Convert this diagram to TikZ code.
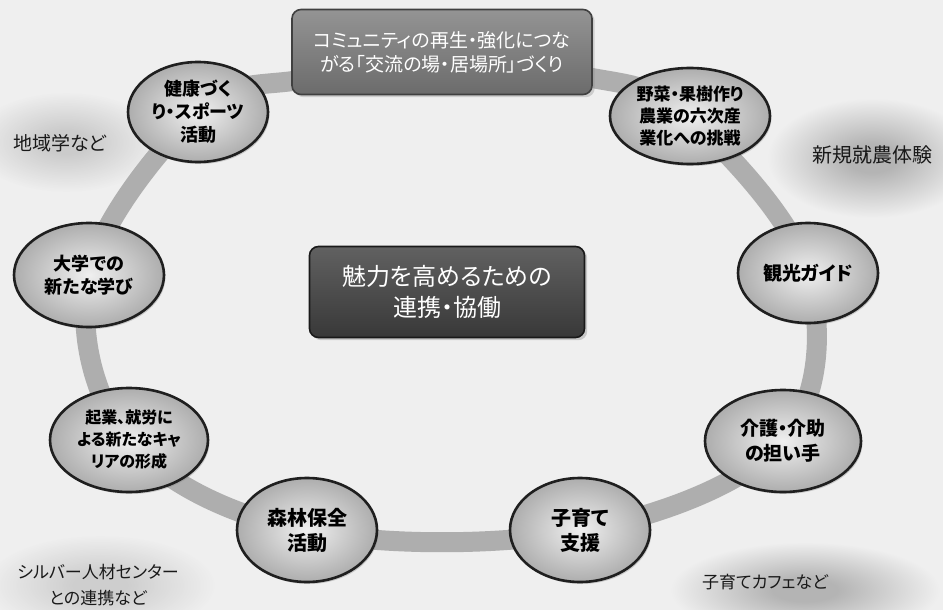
\documentclass[tikz,border=0pt]{standalone}
\usepackage{fontspec}
\setmainfont{Noto Sans CJK JP}[RawFeature={+palt}]
\usetikzlibrary{shapes.geometric,shadows}
\definecolor{bgc}{HTML}{EFEFEF}
\definecolor{glowc}{HTML}{B4B4B4}
\definecolor{ringc}{HTML}{AEAEAE}
\pgfdeclareradialshading{glow}{\pgfpoint{0bp}{0bp}}{color(0bp)=(glowc); color(6bp)=(glowc); color(25bp)=(bgc); color(50bp)=(bgc)}
\tikzset{
  bubble/.style={ellipse, draw=black!88, line width=2.6pt, inner sep=0pt,
    inner color=black!6, outer color=black!32, align=center,
    drop shadow={opacity=0.35, shadow xshift=1.5pt, shadow yshift=-2pt},
    font=\bfseries\fontsize{18}{23}\selectfont},
  topbox/.style={rounded corners=9pt, draw=black!75, line width=1.6pt,
    top color=black!42, bottom color=black!58, text=white, align=center,
    drop shadow={opacity=0.3}, font=\fontsize{19}{24}\selectfont},
  midbox/.style={rounded corners=9pt, draw=black!90, line width=1.6pt,
    top color=black!62, bottom color=black!78, text=white, align=center,
    drop shadow={opacity=0.35}, font=\fontsize{24}{31}\selectfont},
  outlabel/.style={align=center, text=black!90},
  ring/.style={draw=ringc, line width=20pt},
  glowblob/.style={shading=glow}
}
\begin{document}
\begin{tikzpicture}[x=1pt,y=-1pt]
\fill[bgc] (0,0) rectangle (943,610);
\useasboundingbox (0,0) rectangle (943,610);

% glows behind outer labels
\shade[glowblob, opacity=0.6] (66,142) ellipse (95pt and 50pt);
\shade[glowblob] (872,158) ellipse (105pt and 60pt);
\shade[glowblob, opacity=0.55] (100,585) ellipse (115pt and 50pt);
\shade[glowblob] (805,590) ellipse (135pt and 48pt);

% ring
\draw[ring] plot[smooth cycle, tension=0.6] coordinates {
  (300,80) (442,73) (592,78) (690,118) (808,273) (783,441)
  (580,531) (307,531) (129,441) (89,275) (198,112)};

% boxes
\node[topbox, minimum width=300pt, minimum height=85pt] (top) at (442,52)
  {コミュニティの再生・強化につな\\がる「交流の場・居場所」づくり};
\node[midbox, minimum width=275pt, minimum height=91pt] (mid) at (447,292)
  {魅力を高めるための\\連携・協働};

% bubbles
\node[bubble, minimum width=140pt, minimum height=100pt] (kenko) at (198,112)
  {健康づく\\り・スポーツ\\活動};
\node[bubble, minimum width=160pt, minimum height=96pt,
  font=\bfseries\fontsize{17}{22}\selectfont] (yasai) at (690,116)
  {野菜・果樹作り\\農業の六次産\\業化への挑戦};
\node[bubble, minimum width=150pt, minimum height=104pt] (daigaku) at (89,275)
  {大学での\\新たな学び};
\node[bubble, minimum width=140pt, minimum height=100pt,
  font=\bfseries\fontsize{19}{23}\selectfont] (kanko) at (808,273)
  {観光ガイド};
\node[bubble, minimum width=158pt, minimum height=104pt,
  font=\bfseries\fontsize{16}{22}\selectfont] (kigyo) at (129,440)
  {起業、就労に\\よる新たなキャ\\リアの形成};
\node[bubble, minimum width=156pt, minimum height=102pt,
  font=\bfseries\fontsize{19}{25}\selectfont] (kaigo) at (783,441)
  {介護・介助\\の担い手};
\node[bubble, minimum width=140pt, minimum height=104pt,
  font=\bfseries\fontsize{20}{25}\selectfont] (shinrin) at (307,530)
  {森林保全\\活動};
\node[bubble, minimum width=140pt, minimum height=104pt,
  font=\bfseries\fontsize{20}{25}\selectfont] (kosodate) at (580,530)
  {子育て\\支援};

% outer labels
\node[outlabel, font=\fontsize{19}{23}\selectfont] (chiiki) at (60,143) {地域学など};
\node[outlabel, font=\fontsize{20}{24}\selectfont] (shinki) at (872,155) {新規就農体験};
\node[outlabel, font=\fontsize{17}{26}\selectfont] (silver) at (98,585)
  {シルバー人材センター\\との連携など};
\node[outlabel, font=\fontsize{17}{22}\selectfont] (cafe) at (765,582) {子育てカフェなど};
\end{tikzpicture}
\end{document}
